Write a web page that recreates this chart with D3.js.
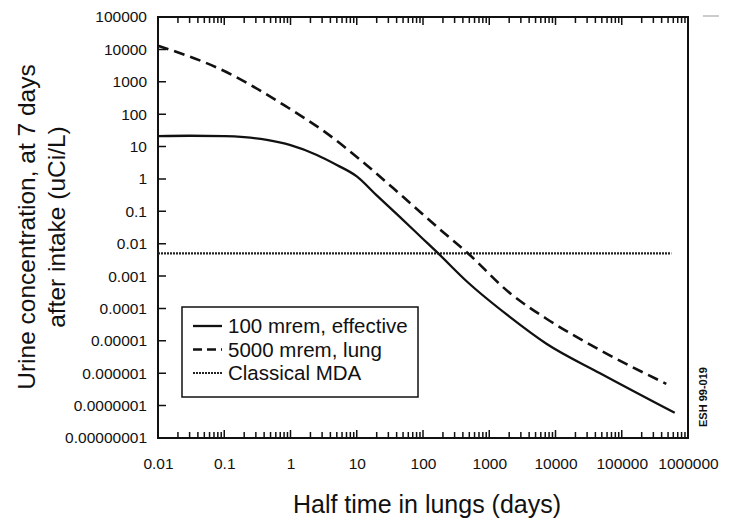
<!DOCTYPE html>
<html>
<head>
<meta charset="utf-8">
<script src="https://cdn.jsdelivr.net/npm/d3@7"></script>
<style>
  html, body { margin: 0; padding: 0; background: #fff; }
  svg text { font-family: "Liberation Sans", Arial, Helvetica, sans-serif; fill: #111; }
</style>
</head>
<body>
<svg id="chart" width="737" height="521"></svg>
<script>
// ---- data ----
const xTickValues = [0.01, 0.1, 1, 10, 100, 1000, 10000, 100000, 1000000];
const xTickLabels = ["0.01", "0.1", "1", "10", "100", "1000", "10000", "100000", "1000000"];
const yTickValues = [1e5, 1e4, 1e3, 1e2, 1e1, 1, 0.1, 0.01, 0.001, 1e-4, 1e-5, 1e-6, 1e-7, 1e-8];
const yTickLabels = ["100000", "10000", "1000", "100", "10", "1", "0.1", "0.01", "0.001",
                     "0.0001", "0.00001", "0.000001", "0.0000001", "0.00000001"];

// 100 mrem, effective (solid)
const effX = [0.01, 0.03, 0.1, 0.2, 0.44, 1, 2.5, 5, 10, 20, 45, 100, 170, 460, 2040, 7200, 47000, 630000];
const effY = [21, 21.5, 21, 19.5, 16, 11, 5.5, 2.7, 1.2, 0.31, 0.066, 0.014, 0.005, 6.8e-4, 5.5e-5, 8.3e-6, 1e-6, 6e-8];

// 5000 mrem, lung (dashed)
const lungX = [0.01, 0.1, 0.87, 3.5, 14, 50, 200, 480, 2040, 7200, 47000, 470000];
const lungY = [13000, 2150, 170, 26, 2.7, 0.28, 0.023, 0.005, 3e-4, 4.9e-5, 5.2e-6, 4.7e-7];

// Classical MDA (horizontal)
const mdaX = [0.01, 560000];
const mdaY = [0.005, 0.005];

const seriesNames = ["100 mrem, effective", "5000 mrem, lung", "Classical MDA"];

// ---- drawing ----
const svg = d3.select("#chart");
const pL = 158, pR = 688, pT = 17, pB = 438;

const x = d3.scaleLog().domain([0.01, 1e6]).range([pL, pR]);
const y = d3.scaleLog().domain([1e-8, 1e5]).range([pB, pT]);

// minor ticks (1..9 per decade), generated from the scale's decades
const minor = [];
for (let e = -2; e < 6; e++) for (let k = 1; k <= 9; k++) minor.push(k * Math.pow(10, e));
minor.push(1e6);
const isMajor = d => Math.abs(Math.log10(d) - Math.round(Math.log10(d))) < 1e-6;

let tickPath = "";
minor.forEach(d => {
  const px = x(d), len = isMajor(d) ? 8 : 6;
  tickPath += `M${px},${pT}V${pT + len}M${px},${pB}V${pB - len}`;
});
yTickValues.forEach(d => {
  tickPath += `M${pL},${y(d)}H${pL + 8}`;
});

// frame
svg.append("rect").attr("x", pL).attr("y", pT)
  .attr("width", pR - pL).attr("height", pB - pT)
  .attr("fill", "none").attr("stroke", "#111").attr("stroke-width", 2);

svg.append("path").attr("d", tickPath).attr("fill", "none")
  .attr("stroke", "#111").attr("stroke-width", 1.5);

// bottom labels via axis
const xAxis = svg.append("g").attr("transform", `translate(0,${pB})`)
  .call(d3.axisBottom(x).tickValues(xTickValues).tickSize(0).tickPadding(20)
        .tickFormat((d, i) => xTickLabels[i]));
xAxis.select(".domain").remove();
xAxis.selectAll("text").style("font-size", "15.5px").attr("fill", "#111");

// left labels via axis
const yAxis = svg.append("g").attr("transform", `translate(${pL},0)`)
  .call(d3.axisLeft(y).tickValues(yTickValues).tickSize(0).tickPadding(11)
        .tickFormat((d, i) => yTickLabels[i]));
yAxis.select(".domain").remove();
yAxis.selectAll("text").style("font-size", "15.5px").attr("fill", "#111");

// lines
const lineGen = d3.line().x(d => x(d[0])).y(d => y(d[1])).curve(d3.curveMonotoneX);

svg.append("path").datum(mdaX.map((v, i) => [v, mdaY[i]]))
  .attr("d", d3.line().x(d => x(d[0])).y(d => y(d[1])))
  .attr("fill", "none").attr("stroke", "#222").attr("stroke-width", 2.2)
  .attr("stroke-dasharray", "2,1");

svg.append("path").datum(effX.map((v, i) => [v, effY[i]]))
  .attr("d", lineGen).attr("fill", "none").attr("stroke", "#111").attr("stroke-width", 2.3);

svg.append("path").datum(lungX.map((v, i) => [v, lungY[i]]))
  .attr("d", lineGen).attr("fill", "none").attr("stroke", "#111").attr("stroke-width", 2.6)
  .attr("stroke-dasharray", "11,6");

// legend
const lg = svg.append("g");
lg.append("rect").attr("x", 182).attr("y", 307).attr("width", 236).attr("height", 90)
  .attr("fill", "#fff").attr("stroke", "#111").attr("stroke-width", 1.5);
const legendStyles = [
  {dash: null, w: 2.3, c: "#111"},
  {dash: "9,5", w: 2.3, c: "#111"},
  {dash: "2,1", w: 1.8, c: "#222"}
];
seriesNames.forEach((name, i) => {
  const ly = 326 + i * 23.5;
  const l = lg.append("line").attr("x1", 193).attr("x2", 222).attr("y1", ly).attr("y2", ly)
    .attr("stroke", legendStyles[i].c).attr("stroke-width", legendStyles[i].w);
  if (legendStyles[i].dash) l.attr("stroke-dasharray", legendStyles[i].dash);
  lg.append("text").attr("x", 228).attr("y", ly + 7).style("font-size", "20.5px").text(name);
});

// axis titles
svg.append("text").attr("x", 427).attr("y", 513).attr("text-anchor", "middle")
  .style("font-size", "25px").text("Half time in lungs (days)");
const yt = svg.append("text").attr("transform", "translate(0,227) rotate(-90)")
  .attr("text-anchor", "middle").style("font-size", "24.5px");
yt.append("tspan").attr("x", 0).attr("y", 35).text("Urine concentration, at 7 days");
yt.append("tspan").attr("x", 0).attr("y", 65).text("after intake (uCi/L)");

// figure id
svg.append("text").attr("transform", "translate(707,397) rotate(-90)")
  .attr("text-anchor", "middle").style("font-size", "11px").style("font-weight", "bold")
  .text("ESH 99-019");
svg.append("line").attr("x1", 703).attr("x2", 719).attr("y1", 16).attr("y2", 16)
  .attr("stroke", "#999").attr("stroke-width", 1);
</script>
</body>
</html>
